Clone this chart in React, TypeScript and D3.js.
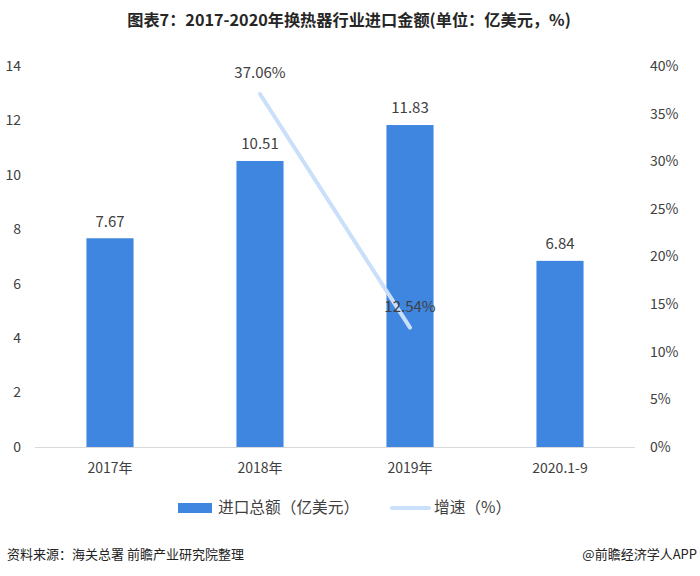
import React from "react";
import * as d3 from "d3";

const categories = ["2017年", "2018年", "2019年", "2020.1-9"];
const importValues = [7.67, 10.51, 11.83, 6.84];
const growthCats = ["2018年", "2019年"];
const growthValues = [37.06, 12.54];
const leftTicks = [0, 2, 4, 6, 8, 10, 12, 14];
const rightTicks = [0, 5, 10, 15, 20, 25, 30, 35, 40];

const W = 700, H = 576;
const font = "'Noto Sans CJK SC', 'Noto Sans', sans-serif";
const txt = "#404040";

export default function App() {
  const x = d3.scaleBand<string>().domain(categories).range([35, 635]).paddingInner(0.686).paddingOuter(0.343);
  const yL = d3.scaleLinear().domain([0, 14]).range([447, 66]);
  const yR = d3.scaleLinear().domain([0, 40]).range([447, 66]);
  const cx = (c: string) => (x(c) as number) + x.bandwidth() / 2;
  const line = d3.line<number>().x((_, i) => cx(growthCats[i])).y((v) => yR(v));
  return (
    <svg width={W} height={H} style={{ position: "absolute", left: 0, top: 0, background: "#fff" }} fontFamily={font}>
      <text x={349} y={26} textAnchor="middle" fontSize={16.2} fontWeight="bold" fill="#262626">图表7：2017-2020年换热器行业进口金额(单位：亿美元，%)</text>
      {leftTicks.map((t) => (
        <text key={"l" + t} x={21} y={yL(t)} dy="0.35em" textAnchor="end" fontSize={14} fill={txt}>{t}</text>
      ))}
      {rightTicks.map((t) => (
        <text key={"r" + t} x={650} y={yR(t)} dy="0.35em" textAnchor="start" fontSize={14} fill={txt}>{t}%</text>
      ))}
      <line x1={35} x2={635} y1={447.5} y2={447.5} stroke="#d9d9d9" strokeWidth={1} />
      {categories.map((c, i) => (
        <g key={c}>
          <rect x={x(c)} y={yL(importValues[i])} width={x.bandwidth()} height={447 - yL(importValues[i])} fill="#3f86e0" />
          <text x={cx(c)} y={yL(importValues[i]) - 17} dy="0.35em" textAnchor="middle" fontSize={15} fill={txt}>{importValues[i].toFixed(2)}</text>
          <text x={cx(c)} y={468} dy="0.35em" textAnchor="middle" fontSize={14} fill={txt}>{c}</text>
        </g>
      ))}
      <path d={line(growthValues) || ""} fill="none" stroke="#c9dffa" strokeWidth={4} strokeLinecap="round" />
      {growthValues.map((v, i) => (
        <text key={"g" + i} x={cx(growthCats[i])} y={yR(v) - 21} dy="0.35em" textAnchor="middle" fontSize={15} fill={txt}>{v.toFixed(2)}%</text>
      ))}
      <rect x={178} y={503} width={34} height={10} fill="#3f86e0" />
      <text x={218} y={508} dy="0.35em" fontSize={15.7} fill={txt}>进口总额（亿美元）</text>
      <line x1={392} x2={429} y1={508} y2={508} stroke="#c9dffa" strokeWidth={4} strokeLinecap="round" />
      <text x={434} y={508} dy="0.35em" fontSize={15.7} fill={txt}>增速（%）</text>
      <text x={7} y={554} dy="0.35em" fontSize={13} fill="#222">资料来源：海关总署 前瞻产业研究院整理</text>
      <text x={697} y={554} dy="0.35em" textAnchor="end" fontSize={13} fill="#222">@前瞻经济学人APP</text>
    </svg>
  );
}
